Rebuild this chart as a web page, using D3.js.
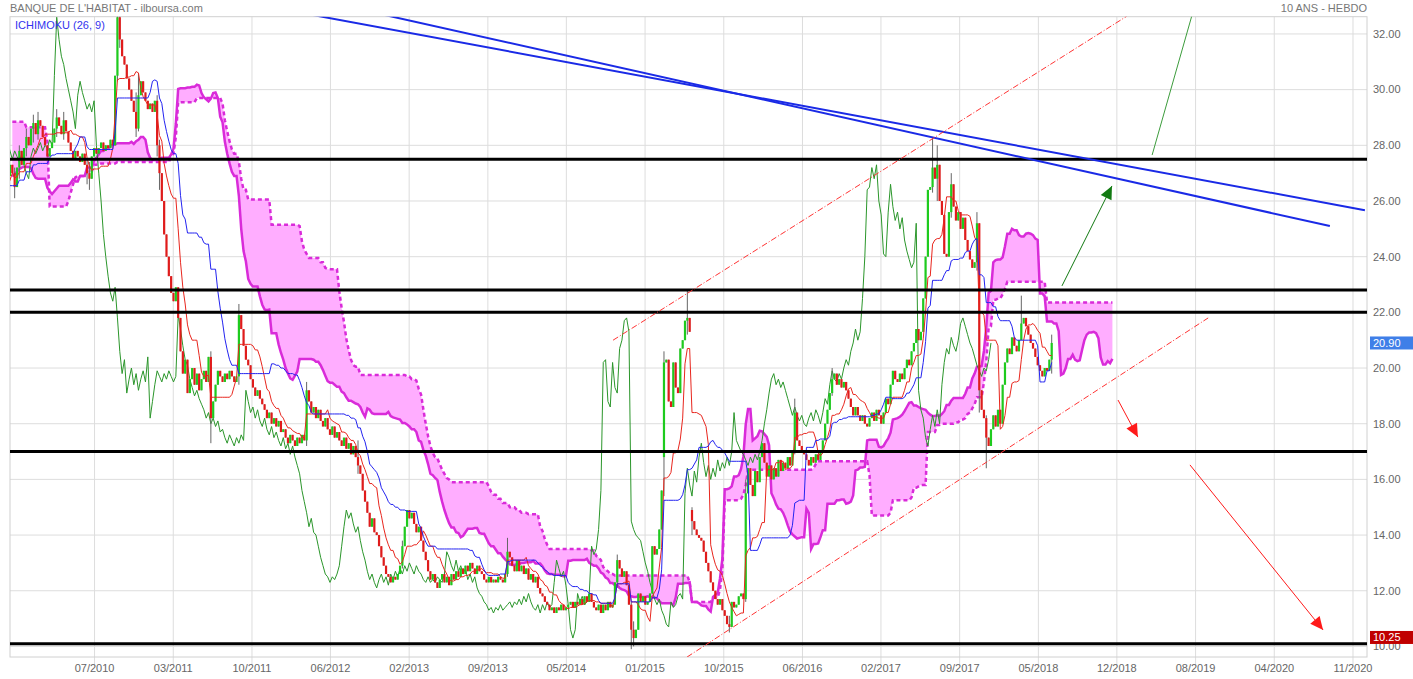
<!DOCTYPE html>
<html><head><meta charset="utf-8">
<script src="https://cdnjs.cloudflare.com/ajax/libs/d3/7.8.5/d3.min.js"></script>
<style>body{margin:0;background:#fff;} svg{display:block;font-family:"Liberation Sans",Arial,sans-serif;}</style>
</head><body><svg id="c" width="1413" height="679"></svg>
<script>
// weekly closes before the visible window (weeks -78..-1), needed by the Ichimoku windows
const priorCloses = [31.6,32.3,33.1,33.8,34.4,33.7,32.9,33.5,32.6,31.9,
 32.7,32.0,33.2,34.0,33.0,
 28.0,27.2,26.4,25.6,24.9,24.2,23.6,23.3,23.7,24.3,
 24.9,25.4,25.9,26.3,26.8,27.1,27.4,27.2,27.6,27.9,
 28.3,27.8,27.5,27.9,28.2,27.7,27.3,27.6,27.1,26.8,
 27.2,27.5,27.0,26.7,27.1,27.4,27.0,26.8,26.5,26.9,
 27.3,27.6,27.2,26.8,26.4,26.0,25.7,25.9,26.3,26.1,
 25.8,25.5,25.9,26.4,26.8,27.2,27.6,27.3,27.0,26.6,
 26.9,27.3,27.0];
// visible weekly closes (weeks 0..444)
const closes = [26.5,27.2,27.8,27.3,27.9,28.3,28.0,28.6,28.8,28.4,
 28.9,28.7,28.3,28.0,27.6,27.9,28.1,28.6,29.0,28.7,
 28.4,28.9,28.5,28.1,27.8,27.5,27.8,27.6,27.4,27.7,
 27.3,27.0,26.8,27.6,27.9,27.7,27.9,28.1,27.8,28.0,
 27.9,28.2,28.0,30.5,32.6,31.8,31.2,30.9,30.4,30.0,
 29.6,29.2,28.6,29.8,30.3,29.9,29.6,29.3,29.5,29.2,
 29.6,28.0,27.0,26.0,24.8,24.0,23.3,22.7,22.4,22.9,
 21.8,20.6,19.8,20.3,19.1,19.6,20.0,19.4,19.8,19.2,
 19.6,19.9,19.5,20.4,18.2,18.8,19.4,19.9,19.7,19.5,
 19.8,19.6,19.9,19.7,19.5,19.7,21.9,21.4,20.8,20.3,
 20.1,19.6,19.3,19.0,19.2,18.9,18.7,18.5,18.2,18.4,
 18.0,18.2,17.9,18.1,17.7,17.8,17.5,17.3,17.6,17.4,
 17.2,17.5,17.3,17.6,17.4,19.2,18.8,18.4,18.6,18.2,
 18.5,18.1,17.9,18.2,17.8,17.6,17.9,17.5,17.7,17.4,
 17.2,17.5,17.1,17.3,16.9,17.2,16.8,16.5,16.2,15.6,
 15.2,14.8,14.3,14.6,14.1,14.0,13.6,13.2,12.9,12.6,
 12.5,12.3,12.5,12.4,12.6,12.9,13.6,14.3,14.9,14.6,
 14.8,14.4,14.1,14.3,13.8,13.4,13.1,12.7,12.4,12.6,
 12.3,12.1,12.4,12.6,12.3,12.5,12.2,12.6,12.4,12.7,
 12.5,12.8,12.6,12.9,12.7,13.0,12.8,12.6,12.9,12.7,
 12.6,12.4,12.3,12.5,12.3,12.4,12.3,12.5,12.4,12.3,
 12.6,13.4,13.2,12.9,12.7,13.1,12.7,12.9,12.6,12.8,
 12.4,12.6,12.3,12.5,12.1,11.9,11.8,11.6,11.5,11.3,
 11.4,11.2,11.4,11.3,11.5,11.3,11.4,11.5,11.6,11.4,
 11.6,11.5,11.7,11.5,11.8,11.6,11.9,11.6,11.4,11.3,
 11.5,11.2,11.5,11.3,11.6,11.4,11.5,12.3,13.1,12.8,
 12.5,12.7,12.2,11.5,10.6,10.3,10.6,11.9,11.6,11.8,
 11.5,11.6,11.9,13.6,13.3,13.5,14.2,15.6,20.2,20.3,
 18.8,18.6,20.2,19.3,19.1,20.7,21.0,21.7,21.8,21.3,
 14.5,14.2,14.0,13.9,13.8,13.4,13.0,12.7,12.3,12.0,
 11.7,11.5,11.7,11.3,11.1,10.8,10.7,11.6,11.4,11.5,
 11.8,11.9,11.7,15.5,16.4,15.8,15.4,16.3,15.9,16.8,
 17.3,16.6,16.1,16.5,16.0,16.4,16.1,16.7,16.3,16.6,
 16.4,16.8,16.5,17.0,18.4,17.4,17.2,17.0,16.9,16.7,
 16.5,16.8,16.6,16.9,16.7,17.0,17.4,18.0,18.5,19.1,
 19.6,19.8,19.4,19.6,19.3,19.5,19.2,18.9,18.6,18.3,
 18.6,18.3,18.1,18.3,18.0,17.9,18.2,18.4,18.1,18.5,
 18.3,18.0,18.4,18.9,18.7,19.4,19.9,19.6,19.5,19.8,
 19.6,20.0,20.3,20.1,20.6,20.9,21.4,21.0,21.3,22.5,
 24.0,26.4,26.5,27.2,26.8,27.3,26.0,25.5,24.1,24.0,
 25.6,26.6,25.8,25.3,25.6,25.0,25.4,24.6,24.2,23.9,
 23.6,23.8,25.2,19.2,18.5,18.2,17.5,17.2,17.8,18.3,
 17.9,18.5,18.0,19.4,20.2,20.7,20.5,21.1,20.8,20.6,
 21.0,21.6,21.8,21.5,21.2,20.9,20.7,20.4,20.1,19.9,
 19.7,20.0,19.9,20.3,20.9];
// weeks that opened away from the previous close: [week, open]
const gapOpens = [[278,16.8],[290,14.9]];
// visible wick extremes: [week, high, low]
const wicks = [[0,27.2,26.1],[2,28.0,26.8],[5,28.6,27.6],[8,29.1,28.1],[10,29.2,28.2],[18,29.3,28.3],
 [21,29.2,28.2],[31,27.5,26.6],[32,27.4,26.4],[44,33.0,30.3],[45,32.9,31.5],[52,29.9,28.3],[53,30.6,28.5],
 [61,29.8,27.6],[62,28.2,26.4],[84,20.6,17.3],[96,22.3,19.4],[125,19.5,17.2],[147,17.4,16.2],[166,13.8,12.8],
 [211,13.9,12.5],[258,13.3,12.1],[264,11.6,9.9],[265,10.9,10.0],[278,20.6,15.4],[288,22.8,21.2],[290,15.0,14.0],
 [306,11.1,10.5],[313,16.0,11.6],[334,18.9,16.9],[350,20.0,19.0],[393,28.3,26.3],[395,28.0,26.0],[401,27.0,25.4],
 [412,25.6,23.5],[413,25.2,18.4],[416,18.3,16.4],[431,22.6,21.0],[444,21.2,19.8]];
const lastPrice = 20.90;
const supportLabel = 10.25;
const tickWeeks = [34.2,67.9,101.6,135.2,168.9,202.6,236.2,269.9,303.6,337.3,370.9,404.6,438.3,471.9,505.6,539.3,573.0];
const tickLabels = ["07/2010","03/2011","10/2011","06/2012","02/2013","09/2013","05/2014","01/2015","10/2015","06/2016","02/2017","09/2017","05/2018","12/2018","08/2019","04/2020","11/2020"];
const priceTicks = [10,12,14,16,18,20,22,24,26,28,30,32];
const levels = [27.5,22.8,22.0,17.0,10.1];
const blueTrends = [[[127.7,32.68],[578.1,25.67]],[[158.5,32.68],[563.1,25.1]]];
const redChannel = [[[256.2,21.0],[476.2,32.64]],[[287.9,9.62],[511.0,21.8]]];
const greenLine = [[487.0,27.65],[504.1,32.68]];
const greenArrow = [[448.4,22.95],[469.8,26.54]];
const redArrows = [[[472.4,18.85],[480.9,17.52]],[[503.2,16.52],[560.2,10.59]]];

const svg = d3.select("#c");
const L = 10, R = 1367, T = 16.7, B = 657;
const x = d3.scaleLinear().domain([-2, 579]).range([L, R]);
const y = d3.scaleLinear().domain([9.62, 32.62]).range([B, T]);

// bars
const N0 = priorCloses.length;
const all = priorCloses.concat(closes);
const bars = all.map((c, k) => { const o = k > 0 ? all[k-1] : c; return {i: k - N0, o, c, h: Math.max(o,c), l: Math.min(o,c)}; });
gapOpens.forEach(([i,o]) => { const b = bars[i+N0]; b.o = o; b.h = Math.max(o,b.c); b.l = Math.min(o,b.c); });
wicks.forEach(([i,h,l]) => { const b = bars[i+N0]; b.h = Math.max(b.h,h); b.l = Math.min(b.l,l); });

function mid(k, n) {
  if (k - n + 1 < 0) return null;
  let hi = -Infinity, lo = Infinity;
  for (let j = k - n + 1; j <= k; j++) { hi = Math.max(hi, bars[j].h); lo = Math.min(lo, bars[j].l); }
  return (hi + lo) / 2;
}
const tenkan = [], kijun = [], cloud = [], chikou = [];
bars.forEach((b, k) => {
  const t = mid(k, 9), kj = mid(k, 26), sb = mid(k, 52);
  if (t != null) tenkan.push({i: b.i, v: t});
  if (kj != null) kijun.push({i: b.i, v: kj});
  if (t != null && kj != null && sb != null) cloud.push({i: b.i + 26, a: (t + kj) / 2, b: sb});
  chikou.push({i: b.i - 26, v: b.c});
});

svg.append("defs").append("clipPath").attr("id","clip").append("rect")
  .attr("x", L).attr("y", T).attr("width", R - L).attr("height", B - T);

// grid
const grid = svg.append("g");
priceTicks.forEach(v => grid.append("line").attr("x1", L).attr("x2", R).attr("y1", y(v)).attr("y2", y(v)).attr("stroke", "#dddddd"));
tickWeeks.forEach(w => grid.append("line").attr("x1", x(w)).attr("x2", x(w)).attr("y1", T).attr("y2", B + 8).attr("stroke", "#dddddd"));
grid.append("rect").attr("x", L).attr("y", T).attr("width", R - L).attr("height", B - T).attr("fill", "none").attr("stroke", "#d0d0d0");

const plot = svg.append("g").attr("clip-path", "url(#clip)");

// cloud
plot.append("path").datum(cloud).attr("fill", "#ffadff").attr("stroke", "none")
  .attr("d", d3.area().x(d => x(d.i)).y0(d => y(d.b)).y1(d => y(d.a)));
plot.append("path").datum(cloud).attr("fill", "none").attr("stroke", "#d92bd9").attr("stroke-width", 2.5)
  .attr("d", d3.line().x(d => x(d.i)).y(d => y(d.a)));
plot.append("path").datum(cloud).attr("fill", "none").attr("stroke", "#d92bd9").attr("stroke-width", 2.5).attr("stroke-dasharray", "4,3")
  .attr("d", d3.line().x(d => x(d.i)).y(d => y(d.b)));

// chikou
plot.append("path").datum(chikou).attr("fill", "none").attr("stroke", "#2b962b").attr("stroke-width", 1)
  .attr("d", d3.line().x(d => x(d.i)).y(d => y(d.v)));

// candles
const vis = bars.filter(b => b.i >= -3);
const cg = plot.append("g");
cg.selectAll("line.w").data(vis).join("line").attr("class","w")
  .attr("x1", d => x(d.i)).attr("x2", d => x(d.i)).attr("y1", d => y(d.h)).attr("y2", d => y(d.l))
  .attr("stroke", "#666").attr("stroke-width", 1);
cg.selectAll("rect").data(vis).join("rect")
  .attr("x", d => x(d.i) - 1.1).attr("width", 2.2)
  .attr("y", d => y(Math.max(d.o, d.c))).attr("height", d => Math.max(1, Math.abs(y(d.o) - y(d.c))))
  .attr("fill", d => d.c >= d.o ? "#1ecb1e" : "#e01b1b");

// tenkan / kijun
plot.append("path").datum(tenkan).attr("fill", "none").attr("stroke", "#e8261e").attr("stroke-width", 1)
  .attr("d", d3.line().x(d => x(d.i)).y(d => y(d.v)));
plot.append("path").datum(kijun).attr("fill", "none").attr("stroke", "#2323f0").attr("stroke-width", 1)
  .attr("d", d3.line().x(d => x(d.i)).y(d => y(d.v)));

// horizontal levels
levels.forEach(v => plot.append("line").attr("x1", L).attr("x2", R).attr("y1", y(v)).attr("y2", y(v)).attr("stroke", "#000").attr("stroke-width", 3));

// drawings
const seg = (g, p, color, w, dash) => g.append("line")
  .attr("x1", x(p[0][0])).attr("y1", y(p[0][1])).attr("x2", x(p[1][0])).attr("y2", y(p[1][1]))
  .attr("stroke", color).attr("stroke-width", w).attr("stroke-dasharray", dash || null);
blueTrends.forEach(p => seg(plot, p, "#1a2ae6", 2));
redChannel.forEach(p => seg(plot, p, "#ff3333", 1, "6,2,1,2"));
seg(plot, greenLine, "#3c9c3c", 1);
function arrow(p, color) {
  seg(plot, p, color, 1);
  const x1 = x(p[0][0]), y1 = y(p[0][1]), x2 = x(p[1][0]), y2 = y(p[1][1]);
  const a = Math.atan2(y2 - y1, x2 - x1), len = 13, hw = 6;
  const bx = x2 - len * Math.cos(a), by = y2 - len * Math.sin(a);
  const pts = [[x2, y2], [bx + hw * Math.sin(a), by - hw * Math.cos(a)], [bx - hw * Math.sin(a), by + hw * Math.cos(a)]];
  plot.append("polygon").attr("points", pts.map(q => q.join(",")).join(" ")).attr("fill", color);
}
arrow(greenArrow, "#127a12");
redArrows.forEach(p => arrow(p, "#ff1a1a"));

// axis labels
const ax = svg.append("g").attr("font-size", 11).attr("fill", "#666");
priceTicks.forEach(v => ax.append("text").attr("x", 1373).attr("y", y(v)).attr("dy", "0.35em").text(v.toFixed(2)));
tickWeeks.forEach((w, k) => ax.append("text").attr("x", x(w)).attr("y", 672).attr("text-anchor", "middle").text(tickLabels[k]));

// price boxes
function box(v, bg, yy) {
  svg.append("rect").attr("x", 1370).attr("y", yy - 6.5).attr("width", 43).attr("height", 13).attr("fill", bg);
  svg.append("text").attr("x", 1373).attr("y", yy).attr("dy", "0.35em").attr("font-size", 11).attr("fill", "#fff").text(v.toFixed(2));
}
box(lastPrice, "#3f7fe8", y(lastPrice));
box(supportLabel, "#c00000", y(supportLabel) - 2);

// titles
svg.append("text").attr("x", 10).attr("y", 12).attr("font-size", 11).attr("fill", "#777").text("BANQUE DE L'HABITAT - ilboursa.com");
svg.append("text").attr("x", R).attr("y", 12).attr("font-size", 11).attr("fill", "#777").attr("text-anchor", "end").text("10 ANS - HEBDO");
svg.append("text").attr("x", 15).attr("y", 29).attr("font-size", 11).attr("fill", "#3333ee").text("ICHIMOKU (26, 9)");
</script></body></html>
